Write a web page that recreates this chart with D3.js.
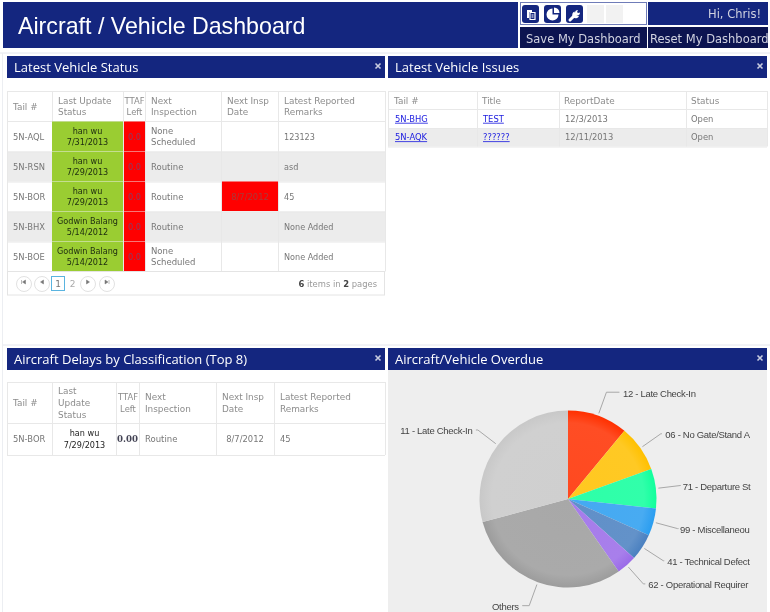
<!DOCTYPE html>
<html>
<head>
<meta charset="utf-8">
<title>Aircraft / Vehicle Dashboard</title>
<script src="https://cdn.jsdelivr.net/npm/d3@7"></script>
<style>
html, body { margin: 0; padding: 0; background: #fff; overflow: hidden; }
svg { display: block; filter: blur(0.3px); }
</style>
</head>
<body>
<svg id="board" width="770" height="612"></svg>
<script>
// latest vehicle status
const statusTails = ["5N-AQL", "5N-RSN", "5N-BOR", "5N-BHX", "5N-BOE"]
const statusNames = ["han wu", "han wu", "han wu", "Godwin Balang", "Godwin Balang"]
const statusDates = ["7/31/2013", "7/29/2013", "7/29/2013", "5/14/2012", "5/14/2012"]
const statusTtaf = ["0.0", "0.0", "0.0", "0.0", "0.0"]
const statusNext = [["None", "Scheduled"], ["Routine"], ["Routine"], ["Routine"], ["None", "Scheduled"]]
const statusNextDates = ["", "", "8/7/2012", "", ""]
const statusRemarks = ["123123", "asd", "45", "None Added", "None Added"]
const statusHeads = [["Tail #"], ["Last Update", "Status"], ["TTAF", "Left"], ["Next", "Inspection"], ["Next Insp", "Date"], ["Latest Reported", "Remarks"]]

// latest vehicle issues
const issueHeads = ["Tail #", "Title", "ReportDate", "Status"]
const issueTails = ["5N-BHG", "5N-AQK"]
const issueTitles = ["TEST", "??????"]
const issueDates = ["12/3/2013", "12/11/2013"]
const issueStates = ["Open", "Open"]

// delays table
const delayHeads = [["Tail #"], ["Last", "Update", "Status"], ["TTAF", "Left"], ["Next", "Inspection"], ["Next Insp", "Date"], ["Latest Reported", "Remarks"]]
const delayRow = ["5N-BOR", ["han wu", "7/29/2013"], "0.00", "Routine", "8/7/2012", "45"]

// overdue pie, names as far as the panel shows them
const pieNames = ["12 - Late Check-In", "06 - No Gate/Stand A", "71 - Departure St", "99 - Miscellaneou", "41 - Technical Defect", "62 - Operational Requirer", "Others", "11 - Late Check-In"]
const pieValues = [11, 8.5, 7.2, 5, 4.9, 3.7, 30.5, 29.2]
const pieColors = ["#ff3000", "#ffc000", "#10ff9c", "#2a9df0", "#4a80c0", "#9a6ae8", "#9c9c9c", "#c8c8c8"]

const navy = "#14267f"
const tableFont = "'DejaVu Sans', Verdana, sans-serif"
const svg = d3.select("#board")
const defs = svg.append("defs")

// page chrome
svg.append("rect").attr("x", 3).attr("y", 2).attr("width", 515).attr("height", 46).attr("fill", navy)
svg.append("text").attr("x", 18).attr("y", 34).attr("fill", "#fff")
    .attr("font-family", "'Liberation Sans', Arial, sans-serif").attr("font-size", 23.2)
    .text("Aircraft / Vehicle Dashboard")

svg.append("rect").attr("x", 520.5).attr("y", 2.5).attr("width", 126).attr("height", 22)
    .attr("fill", "#fff").attr("stroke", "#6f7cb8")
svg.append("rect").attr("x", 648).attr("y", 2).attr("width", 120).attr("height", 23).attr("fill", navy)
svg.append("rect").attr("x", 520).attr("y", 27).attr("width", 127).attr("height", 21).attr("fill", "#0c1450")
svg.append("rect").attr("x", 648).attr("y", 27).attr("width", 120).attr("height", 21).attr("fill", "#0c1450")

const chromeText = (x, y, str, anchor) => svg.append("text").attr("x", x).attr("y", y)
    .attr("text-anchor", anchor || "start").attr("fill", "#d0d2e0")
    .attr("font-family", tableFont).attr("font-size", 11.5).text(str)
chromeText(761, 18, "Hi, Chris!", "end")
chromeText(526, 43, "Save My Dashboard")
chromeText(650, 43, "Reset My Dashboard")

// toolbar icons
const iconX = [522, 544, 566]
svg.selectAll(".icon").data(iconX).join("rect").attr("class", "icon")
    .attr("x", d => d).attr("y", 5).attr("width", 17).attr("height", 18).attr("rx", 3).attr("fill", navy)
svg.selectAll(".blank").data([587, 606]).join("rect").attr("class", "blank")
    .attr("x", d => d).attr("y", 5).attr("width", 17).attr("height", 18).attr("fill", "#f2f2f2")
// copy icon
svg.append("path").attr("d", "M527 10h5v2h-3v6h-2z").attr("fill", "#fff")
svg.append("path").attr("d", "M530 12.5h5v7h-5z M531.5 15h2 M531.5 17h2").attr("fill", "none").attr("stroke", "#fff").attr("stroke-width", 1.2)
// little pie icon
svg.append("path").attr("d", d3.arc()({ innerRadius: 0, outerRadius: 6, startAngle: 1.57, endAngle: 6.28 }))
    .attr("transform", "translate(552.5,14.5)").attr("fill", "#fff")
svg.append("path").attr("d", d3.arc()({ innerRadius: 0, outerRadius: 5.5, startAngle: 0, endAngle: 1.57 }))
    .attr("transform", "translate(554,13)").attr("fill", "#fff")
// wrench icon
svg.append("path").attr("d", "M570 20l6-6").attr("stroke", "#fff").attr("stroke-width", 3).attr("stroke-linecap", "round")
svg.append("path").attr("d", "M574.5 11.5a3.5 3.5 0 1 0 4.5 4.5l-2.2-0.6-1.6-1.6z").attr("fill", "#fff")
svg.append("path").attr("d", "M575 13a3 3 0 0 1 3-3l-1 2 1 1 2-0.5a3 3 0 0 1-3 3z").attr("fill", "#fff")

svg.append("line").attr("x1", 0).attr("x2", 770).attr("y1", 53).attr("y2", 53).attr("stroke", "#e4e6ee")
svg.append("line").attr("x1", 3).attr("x2", 770).attr("y1", 345).attr("y2", 345).attr("stroke", "#e4e6ee")
svg.append("line").attr("x1", 2.5).attr("x2", 2.5).attr("y1", 53).attr("y2", 612).attr("stroke", "#eceef2")

// panel headers
const panelTitles = ["Latest Vehicle Status", "Latest Vehicle Issues", "Aircraft Delays by Classification (Top 8)", "Aircraft/Vehicle Overdue"]
const panelX = [7, 388, 7, 388]
const panelY = [56, 56, 348, 348]
const panelW = [378, 379, 378, 379]
panelTitles.forEach((title, i) => {
    svg.append("rect").attr("x", panelX[i]).attr("y", panelY[i]).attr("width", panelW[i]).attr("height", 22).attr("fill", navy)
    svg.append("text").attr("x", panelX[i] + 7).attr("y", panelY[i] + 16).attr("fill", "#fff")
        .attr("font-family", "'Open Sans', sans-serif").attr("font-size", 13).text(title)
    const cx = panelX[i] + panelW[i] - 7
    const cy = panelY[i] + 10
    svg.append("path").attr("d", `M${cx - 2.5} ${cy - 2.5}L${cx + 2.5} ${cy + 2.5}M${cx + 2.5} ${cy - 2.5}L${cx - 2.5} ${cy + 2.5}`)
        .attr("stroke", "#c8cce0").attr("stroke-width", 1.6)
})

// one text cell, lines stacked around the row middle
function cellText(x, y, lines, opts) {
    const o = opts || {}
    const arr = Array.isArray(lines) ? lines : [lines]
    const lh = o.lh || 11.8
    const t = svg.append("text")
        .attr("font-family", o.font || tableFont).attr("font-size", o.size || 8.4)
        .attr("font-weight", o.weight || "normal")
        .attr("text-anchor", o.anchor || "start")
        .attr("fill", o.color || "#777")
        .attr("text-decoration", o.underline ? "underline" : null)
    arr.forEach((str, i) => {
        t.append("tspan").attr("x", x).attr("y", y + 3 + (i - (arr.length - 1) / 2) * lh).text(str)
    })
    return t
}

function gridLines(cols, rows) {
    const left = cols[0], right = cols[cols.length - 1]
    const top = rows[0], bottom = rows[rows.length - 1]
    svg.append("g").selectAll("line").data(cols).join("line")
        .attr("x1", d => d + 0.5).attr("x2", d => d + 0.5).attr("y1", top).attr("y2", bottom).attr("stroke", "#e8e8e8")
    svg.append("g").selectAll("line").data(rows).join("line")
        .attr("x1", left).attr("x2", right).attr("y1", d => d + 0.5).attr("y2", d => d + 0.5).attr("stroke", "#e8e8e8")
}

const headStyle = { color: "#8c8c8c", size: 8.9 }

// status table
const statusCols = [7, 52, 123, 145, 221, 278, 385]
const statusRow = d3.scaleBand().domain(statusTails).range([121.5, 271.5])
const statusRows = [91, 121].concat(statusTails.map(d => statusRow(d) + statusRow.bandwidth())).concat([295])
statusTails.forEach((tail, i) => {
    const y = statusRow(tail), h = statusRow.bandwidth()
    if (i % 2 === 1) svg.append("rect").attr("x", 7).attr("y", y).attr("width", 378).attr("height", h).attr("fill", "#ececec")
})
gridLines(statusCols, statusRows.slice(0, -1))
svg.append("rect").attr("x", 7.5).attr("y", 271.5).attr("width", 377).attr("height", 23.5).attr("fill", "#fff").attr("stroke", "#e4e4e4")
statusTails.forEach((tail, i) => {
    const y = statusRow(tail), h = statusRow.bandwidth(), mid = y + h / 2
    svg.append("rect").attr("x", 52).attr("y", y).attr("width", 71).attr("height", h - 0.5).attr("fill", "#9acd32")
    svg.append("rect").attr("x", 124).attr("y", y).attr("width", 21).attr("height", h - 0.5).attr("fill", "#ff0000")
    cellText(13, mid, tail)
    cellText(87.5, mid, [statusNames[i], statusDates[i]], { anchor: "middle", color: "#1c2a10", size: 8.1 })
    cellText(134.5, mid, statusTtaf[i], { anchor: "middle", color: "#8c3a62", size: 8.2 })
    cellText(151, mid, statusNext[i], { size: 8.5 })
    if (statusNextDates[i]) {
        svg.append("rect").attr("x", 222).attr("y", y).attr("width", 56).attr("height", h - 0.5).attr("fill", "#ff0000")
        cellText(250, mid, statusNextDates[i], { anchor: "middle", color: "#a83a3a" })
    }
    cellText(284, mid, statusRemarks[i], { size: 8.1 })
})
statusHeads.forEach((head, i) => {
    if (i === 2) cellText(134.5, 106.5, head, Object.assign({ anchor: "middle" }, headStyle, { size: 8.4 }))
    else cellText(statusCols[i] + 6, 106.5, head, headStyle)
})

// pager
const pagerX = [24, 42, 88, 107]
const pagerGlyph = ["M21.5 280v4M25.5 280l-3 2 3 2z", "M43.5 280l-3 2 3 2z", "M86.5 280l3 2-3 2z", "M86 280l3 2-3 2zM90 280v4"]
pagerX.forEach((x, i) => {
    svg.append("circle").attr("cx", x).attr("cy", 284).attr("r", 7.5).attr("fill", "#fff").attr("stroke", "#e2e2e2")
    svg.append("path").attr("d", pagerGlyph[i]).attr("transform", i < 2 ? "translate(0,0)" : `translate(${x - 88},0)`)
        .attr("fill", "#777").attr("stroke", "#777").attr("stroke-width", 0.5)
})
svg.append("rect").attr("x", 51.5).attr("y", 276.5).attr("width", 13).attr("height", 14).attr("fill", "#fff").attr("stroke", "#5ab4e0").attr("stroke-width", 1)
cellText(58, 284, "1", { anchor: "middle", size: 9, color: "#777" })
cellText(72.5, 284, "2", { anchor: "middle", size: 9, color: "#aaa" })
const pagerNote = cellText(377, 284, "", { anchor: "end", color: "#999" })
pagerNote.selectAll("tspan").remove()
pagerNote.attr("y", 287).attr("x", 377)
pagerNote.append("tspan").attr("font-weight", "bold").attr("fill", "#444").text("6")
pagerNote.append("tspan").text(" items in ")
pagerNote.append("tspan").attr("font-weight", "bold").attr("fill", "#444").text("2")
pagerNote.append("tspan").text(" pages")

// issues table
const issueCols = [388, 477, 559, 686, 767]
const issueRow = d3.scaleBand().domain(issueTails).range([109.5, 146.5])
const issueRows = [91, 109].concat(issueTails.map(d => issueRow(d) + issueRow.bandwidth()))
svg.append("rect").attr("x", 388).attr("y", issueRow(issueTails[1])).attr("width", 379).attr("height", issueRow.bandwidth()).attr("fill", "#ececec")
gridLines(issueCols, issueRows)
issueHeads.forEach((head, i) => cellText(issueCols[i] + (i === 0 ? 6 : 5), 100.5, head, headStyle))
issueTails.forEach((tail, i) => {
    const mid = issueRow(tail) + issueRow.bandwidth() / 2
    cellText(395, mid, tail, { color: "#2020e0", underline: true })
    cellText(483, mid, issueTitles[i], { color: "#2020e0", underline: true })
    cellText(565, mid, issueDates[i])
    cellText(691, mid, issueStates[i])
})

// delays table
const delayCols = [7, 52, 116, 139, 216, 274, 385]
gridLines(delayCols, [382, 423, 455])
delayHeads.forEach((head, i) => {
    if (i === 2) cellText(128, 403, head, Object.assign({ anchor: "middle" }, headStyle, { size: 8.4 }))
    else cellText(delayCols[i] + 6, 403, head, headStyle)
})
cellText(13, 439, delayRow[0])
cellText(84.5, 439, delayRow[1], { anchor: "middle", color: "#222", size: 8.1 })
cellText(127.5, 439, delayRow[2], { anchor: "middle", color: "#445", weight: "bold", font: "'DejaVu Serif', serif", size: 8.6 })
cellText(145, 439, delayRow[3], { size: 8.5 })
cellText(245, 439, delayRow[4], { anchor: "middle" })
cellText(280, 439, delayRow[5])

// overdue pie
svg.append("rect").attr("x", 388).attr("y", 370).attr("width", 379).attr("height", 242).attr("fill", "#eeeeee")
const cx = 568, cy = 499, radius = 88.5
const pie = d3.pie().sort(null)(pieValues)
const arc = d3.arc().innerRadius(0).outerRadius(radius)
const chart = svg.append("g").attr("transform", `translate(${cx},${cy})`)

pieColors.forEach((col, i) => {
    const g = defs.append("radialGradient").attr("id", "slice" + i)
        .attr("gradientUnits", "userSpaceOnUse").attr("cx", 0).attr("cy", 0).attr("r", radius)
    g.append("stop").attr("offset", "0%").attr("stop-color", d3.interpolateRgb(col, "#fff")(0.12))
    g.append("stop").attr("offset", "86%").attr("stop-color", d3.interpolateRgb(col, "#fff")(0.14))
    g.append("stop").attr("offset", "100%").attr("stop-color", col)
})
chart.selectAll("path").data(pie).join("path")
    .attr("d", arc)
    .attr("fill", (d, i) => `url(#slice${i})`)

// leader lines go out along the slice middle, then a short flat stub
const labelStub = [13, 1, 0, 1, 1, 2, 7, 2]
const labelGap = [3.5, 3.5, 2, 1.5, 3, 3, 3.5, 3.5]
const labels = svg.append("g")
pie.forEach((d, i) => {
    const a = (d.startAngle + d.endAngle) / 2
    const sx = Math.sin(a), sy = -Math.cos(a)
    const right = sx > 0
    const x1 = cx + sx * (radius + 2.5), y1 = cy + sy * (radius + 2.5)
    const x2 = cx + sx * (radius + 25), y2 = cy + sy * (radius + 25)
    const x3 = x2 + (right ? labelStub[i] : -labelStub[i])
    labels.append("path").attr("d", d3.line()([[x1, y1], [x2, y2], [x3, y2]]))
        .attr("fill", "none").attr("stroke", "#a8a8a8").attr("stroke-width", 1)
    labels.append("text").attr("x", x3 + (right ? labelGap[i] : -labelGap[i])).attr("y", y2 + 4.5)
        .attr("text-anchor", right ? "start" : "end")
        .attr("font-family", "'Liberation Sans', Arial, sans-serif").attr("font-size", 9.5)
        .attr("letter-spacing", -0.3).attr("fill", "#444")
        .text(pieNames[i])
})
</script>
</body>
</html>
